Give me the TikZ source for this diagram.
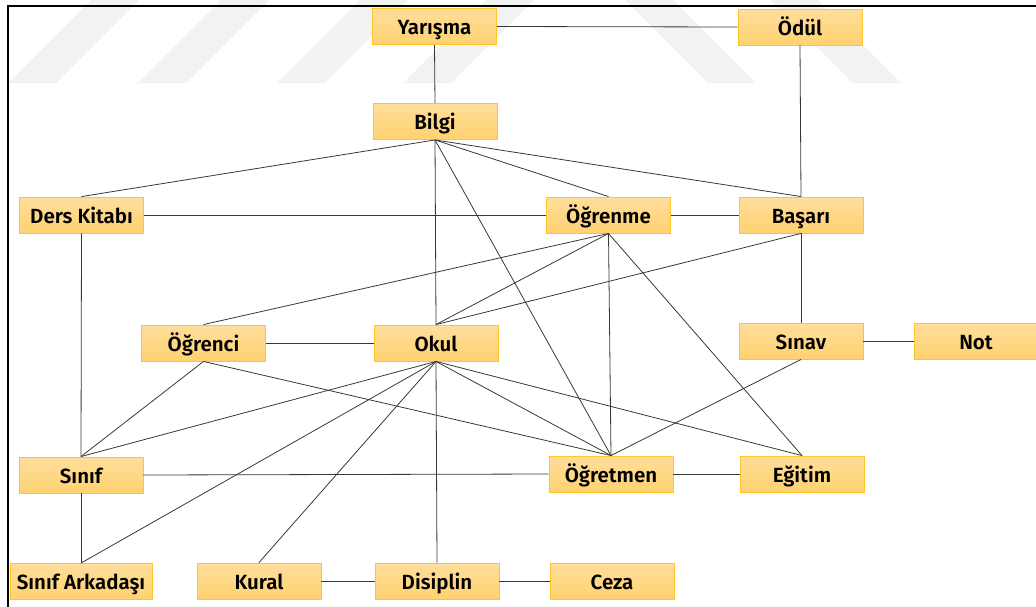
\documentclass[tikz,border=0pt]{standalone}
\usepackage{fontspec}
\setmainfont{Fira Sans}[BoldFont={Fira Sans SemiBold}]
\begin{document}
\begin{tikzpicture}[x=1pt,y=-1pt,
  concept/.style={draw={rgb,255:red,255;green,196;blue,40}, line width=0.9pt,
    top color={rgb,255:red,255;green,222;blue,156},
    bottom color={rgb,255:red,255;green,210;blue,112},
    minimum width=124pt, minimum height=36pt, inner sep=0pt,
    text height=17pt, text depth=1pt,
    font=\fontsize{20.5}{24}\selectfont\bfseries, text=black},
  link/.style={draw=black!78, line width=0.8pt},
  stripe/.style={fill=black!5, draw=none}]
\useasboundingbox (0,0) rectangle (1036,606);

% faint diagonal band pattern behind the top of the sheet
\foreach \b in {8,138,277,403}
  \fill[stripe] (\b,83) -- (\b+48,83) -- (\b+48+90,-7) -- (\b+90,-7) -- cycle;
\foreach \b in {708,853}
  \fill[stripe] (\b,83) -- (\b+48,83) -- (\b+48-90,-7) -- (\b-90,-7) -- cycle;

% sheet frame
\draw[line width=2.2pt] (7.8,610) -- (7.8,6.2) -- (1040,6.2);

% concepts
\node[concept] (yar) at (434.5,26.5) {Yarışma};
\node[concept] (odl) at (800,27) {Ödül};
\node[concept] (blg) at (435,121.5) {Bilgi};
\node[concept] (drs) at (81.5,215) {Ders Kitabı};
\node[concept] (ogr) at (608.5,215) {Öğrenme};
\node[concept] (bsr) at (801,215) {Başarı};
\node[concept] (ogc) at (203.5,343) {Öğrenci};
\node[concept] (okl) at (436,343) {Okul};
\node[concept] (snv) at (801,341) {Sınav};
\node[concept] (not) at (976,341) {Not};
\node[concept] (snf) at (81,475) {Sınıf};
\node[concept] (ogt) at (611,474) {Öğretmen};
\node[concept] (egt) at (802,474) {Eğitim};
\node[concept, minimum width=142pt] (ark) at (81,581.5) {Sınıf Arkadaşı};
\node[concept] (krl) at (259,581) {Kural};
\node[concept] (dsp) at (437,581) {Disiplin};
\node[concept] (cza) at (612,581) {Ceza};

% horizontal links
\draw[link] (yar.east) -- (odl.west);
\draw[link] (drs.east) -- (ogr.west);
\draw[link] (ogr.east) -- (bsr.west);
\draw[link] (ogc.east) -- (okl.west);
\draw[link] (snv.east) -- (not.west);
\draw[link] (snf.east) -- (ogt.west);
\draw[link] (ogt.east) -- (egt.west);
\draw[link] (krl.east) -- (dsp.west);
\draw[link] (dsp.east) -- (cza.west);

% vertical and diagonal links
\draw[link] (yar.south) -- (blg.north);
\draw[link] (odl.south) -- (bsr.north);
\foreach \t in {drs,ogr,bsr,okl,ogt}
  \draw[link] (blg.south) -- (\t.north);
\draw[link] (drs.south) -- (snf.north);
\foreach \t in {ogc,okl,ogt,egt}
  \draw[link] (ogr.south) -- (\t.north);
\draw[link] (bsr.south) -- (okl.north);
\draw[link] (bsr.south) -- (snv.north);
\draw[link] (snv.south) -- (ogt.north);
\draw[link] (ogc.south) -- (snf.north);
\draw[link] (ogc.south) -- (ogt.north);
\foreach \t in {snf,ark,krl,dsp,ogt,egt}
  \draw[link] (okl.south) -- (\t.north);
\draw[link] (snf.south) -- (ark.north);
\end{tikzpicture}
\end{document}
